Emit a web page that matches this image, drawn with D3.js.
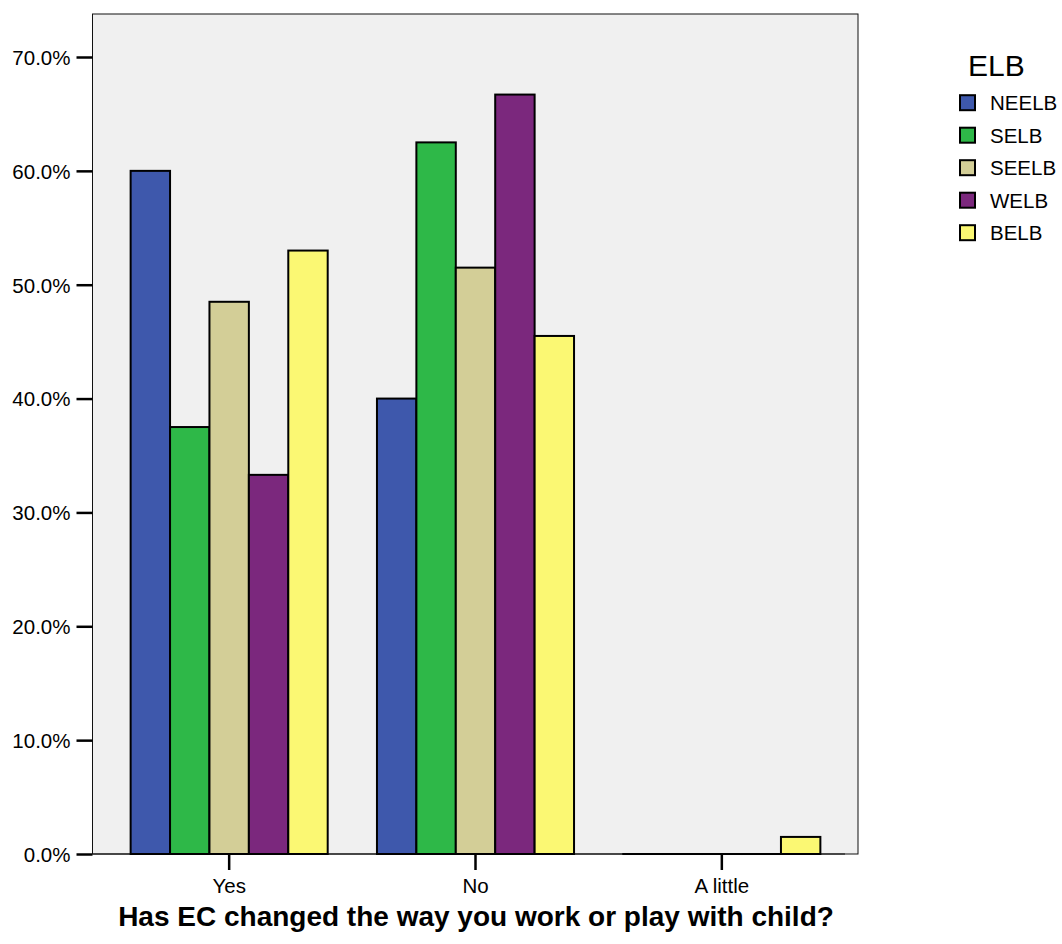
<!DOCTYPE html>
<html>
<head>
<meta charset="utf-8">
<script src="https://cdn.jsdelivr.net/npm/d3@7"></script>
<style>
  html, body { margin: 0; padding: 0; background: #ffffff; }
  svg { display: block; font-family: "Liberation Sans", Arial, sans-serif; }
</style>
</head>
<body>
<svg id="chart" width="1062" height="944"></svg>
<script>
// ---- data ----
const categories = ["Yes", "No", "A little"];
const seriesNames = ["NEELB", "SELB", "SEELB", "WELB", "BELB"];
const seriesColors = ["#3e58ac", "#2eb848", "#d3ce97", "#7b287d", "#fbf873"];
const NEELB = [60.0, 40.0, 0.0];
const SELB  = [37.5, 62.5, 0.0];
const SEELB = [48.5, 51.5, 0.0];
const WELB  = [33.3, 66.7, 0.0];
const BELB  = [53.0, 45.5, 1.5];
const yTicks = [0, 10, 20, 30, 40, 50, 60, 70];
const xTitle = "Has EC changed the way you work or play with child?";
const legendTitle = "ELB";

const seriesValues = [NEELB, SELB, SEELB, WELB, BELB];

// ---- layout ----
const svg = d3.select("#chart");
const plot = { left: 92.5, top: 14, right: 858, bottom: 854 };

const y = d3.scaleLinear().domain([0, 70]).range([854, 57]);
const x0 = d3.scaleBand().domain(categories).range([106, 845]).paddingInner(0.2).paddingOuter(0.1);
const x1 = d3.scaleBand().domain(seriesNames).range([0, x0.bandwidth()]);

// plot background
svg.append("rect")
  .attr("x", plot.left).attr("y", plot.top)
  .attr("width", plot.right - plot.left).attr("height", plot.bottom - plot.top)
  .attr("fill", "#f0f0f0").attr("stroke", "#111").attr("stroke-width", 1);

// x axis baseline
svg.append("line")
  .attr("x1", plot.left).attr("x2", 845)
  .attr("y1", y(0)).attr("y2", y(0))
  .attr("stroke", "#333").attr("stroke-width", 1.5);

// bars
const rows = [];
categories.forEach((c, ci) => {
  seriesNames.forEach((s, si) => {
    rows.push({ cat: c, series: s, value: seriesValues[si][ci], color: seriesColors[si] });
  });
});

svg.append("g").selectAll("rect").data(rows).join("rect")
  .attr("x", d => x0(d.cat) + x1(d.series))
  .attr("y", d => y(d.value))
  .attr("width", x1.bandwidth())
  .attr("height", d => Math.max(y(0) - y(d.value), 0.01))
  .attr("fill", d => d.color)
  .attr("stroke", "#000")
  .attr("stroke-width", 2);

// y axis
const yAxis = d3.axisLeft(y)
  .tickValues(yTicks)
  .tickSize(16)
  .tickPadding(6)
  .tickFormat(d => d.toFixed(1) + "%");
const yg = svg.append("g").attr("transform", `translate(${plot.left},0)`).call(yAxis);
yg.select(".domain").remove();
yg.selectAll(".tick line").attr("stroke", "#000").attr("stroke-width", 2.5);
yg.selectAll(".tick text")
  .attr("font-size", 20.5)
  .attr("font-family", "'Liberation Sans', Arial, sans-serif")
  .attr("fill", "#000")
  .attr("dy", "0.36em");

// x axis
const xAxis = d3.axisBottom(x0).tickSize(16).tickPadding(8);
const xg = svg.append("g").attr("transform", `translate(0,${y(0)})`).call(xAxis);
xg.select(".domain").remove();
xg.selectAll(".tick line").attr("stroke", "#000").attr("stroke-width", 2.5);
xg.selectAll(".tick text")
  .attr("font-size", 20.5)
  .attr("font-family", "'Liberation Sans', Arial, sans-serif")
  .attr("fill", "#000");

// x title
svg.append("text")
  .attr("x", 476).attr("y", 926)
  .attr("text-anchor", "middle")
  .attr("font-size", 28)
  .attr("font-weight", "bold")
  .attr("fill", "#000")
  .text(xTitle);

// legend
const lg = svg.append("g");
lg.append("text")
  .attr("x", 968).attr("y", 76)
  .attr("font-size", 30)
  .attr("fill", "#000")
  .text(legendTitle);

const items = lg.selectAll("g.item").data(seriesNames).join("g")
  .attr("class", "item")
  .attr("transform", (d, i) => `translate(0, ${102.7 + i * 32.5})`);
items.append("rect")
  .attr("x", 960).attr("y", -7.5)
  .attr("width", 15).attr("height", 15)
  .attr("fill", (d, i) => seriesColors[i])
  .attr("stroke", "#000").attr("stroke-width", 2);
items.append("text")
  .attr("x", 990).attr("y", 7.5)
  .attr("font-size", 20.5)
  .attr("fill", "#000")
  .text(d => d);
</script>
</body>
</html>
